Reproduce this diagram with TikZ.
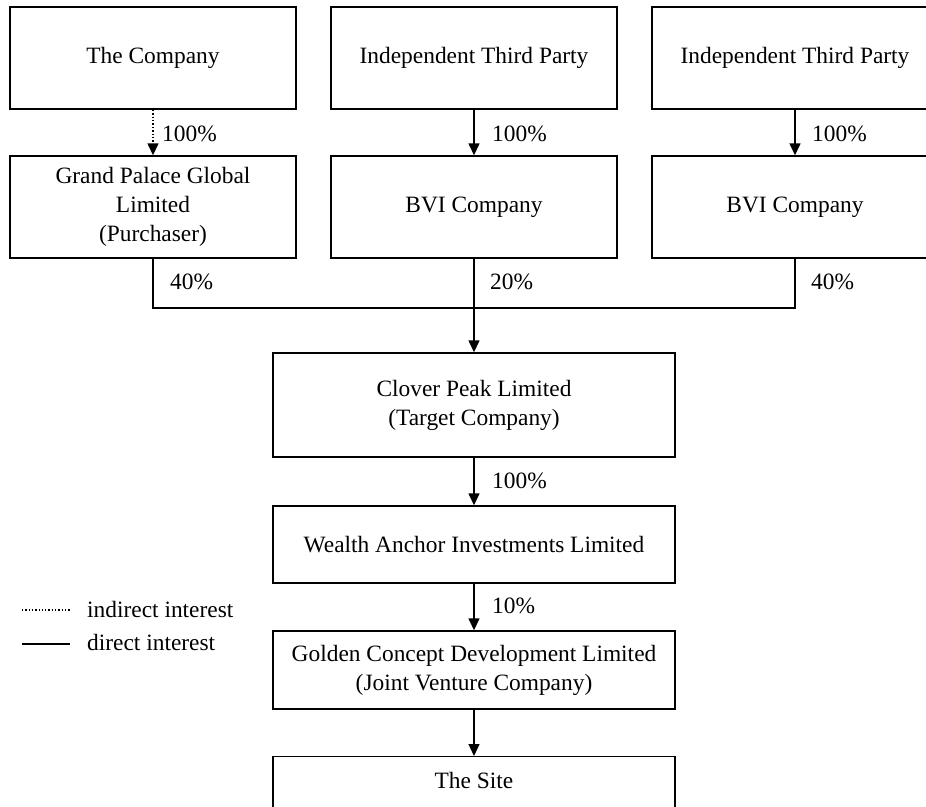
\documentclass[tikz,border=0pt]{standalone}
\usepackage{fontspec}
\setmainfont{Liberation Serif}
\usetikzlibrary{arrows.meta}
\begin{document}
\begin{tikzpicture}[x=1pt,y=-1pt,
  font=\fontsize{23.4}{29}\selectfont,
  box/.style={draw, line width=1.4pt, rectangle, align=center, inner sep=0pt},
  topbox/.style={box, minimum width=286pt, minimum height=102pt},
  bigbox/.style={box, minimum width=402pt},
  conn/.style={line width=1.4pt},
  arr/.style={conn, -{Triangle[width=11pt,length=12pt]}},
  darr/.style={line width=1.4pt, dotted, -{Triangle[width=11pt,length=12pt]}},
  pct/.style={anchor=base west, inner sep=0pt}]
\useasboundingbox (0,0) rectangle (926,806);
% top row
\node[topbox] (comp) at (153,58) {The Company};
\node[topbox] (itp1) at (474,58) {Independent Third Party};
\node[topbox] (itp2) at (795,58) {Independent Third Party};
% second row
\node[topbox] (gp) at (153,207) {Grand Palace Global\\Limited\\(Purchaser)};
\node[topbox] (bvi1) at (474,207) {BVI Company};
\node[topbox] (bvi2) at (795,207) {BVI Company};
% central column
\node[bigbox, minimum height=104pt] (clover) at (474,405) {Clover Peak Limited\\(Target Company)};
\node[bigbox, minimum height=77pt] (wealth) at (474,544.5) {Wealth Anchor Investments Limited};
\node[bigbox, minimum height=78pt] (golden) at (474,670) {Golden Concept Development Limited\\(Joint Venture Company)};
\node[box, minimum width=402pt, anchor=north, text height=32pt, text depth=70pt] (site) at (474,756) {The Site};
% connectors
\draw[darr] (comp.south) -- (gp.north);
\draw[arr] (itp1.south) -- (bvi1.north);
\draw[arr] (itp2.south) -- (bvi2.north);
\coordinate (j) at (474,308);
\draw[conn] (gp.south) |- (j) -| (bvi2.south);
\draw[arr] (bvi1.south) -- (clover.north);
\draw[arr] (clover.south) -- (wealth.north);
\draw[arr] (wealth.south) -- (golden.north);
\draw[arr] (golden.south) -- (site.north);
% percentages
\node[pct] (p1) at (162,141) {100\%};
\node[pct] (p2) at (492,141) {100\%};
\node[pct] (p3) at (812,141) {100\%};
\node[pct] (p4) at (170,289) {40\%};
\node[pct] (p5) at (490,289) {20\%};
\node[pct] (p6) at (811,289) {40\%};
\node[pct] (p7) at (492,488) {100\%};
\node[pct] (p8) at (492,613) {10\%};
% legend
\coordinate (la1) at (22,610);
\coordinate (la2) at (70,610);
\coordinate (lb1) at (22,644);
\coordinate (lb2) at (70,644);
\draw[line width=1.3pt, dotted] (la1) -- (la2);
\draw[line width=1.8pt] (lb1) -- (lb2);
\node[pct] (lt1) at (87,617) {indirect interest};
\node[pct] (lt2) at (87,650) {direct interest};
\end{tikzpicture}
\end{document}
